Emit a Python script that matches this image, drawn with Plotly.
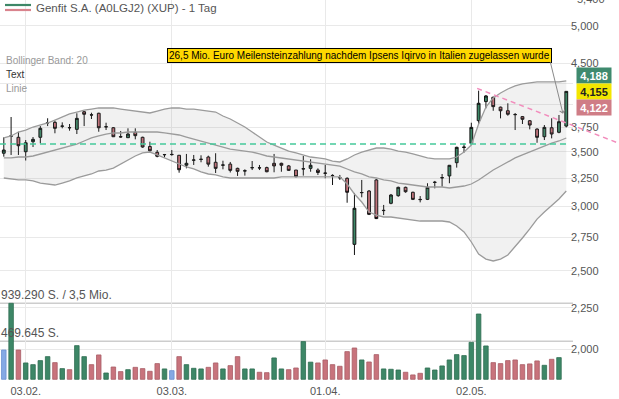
import math
import plotly.graph_objects as go

# ---------------- data ----------------
title_text = "Genfit S.A. (A0LGJ2) (XUP) - 1 Tag"
news_text = "26,5 Mio. Euro Meilensteinzahlung nachdem Ipsens Iqirvo in Italien zugelassen wurde"
side_labels = ["Bollinger Band: 20", "Text", "Linie"]

date_labels = ["03.02.", "03.03.", "01.04.", "02.05."]
date_label_idx = [3, 23, 44, 64]

opens = [3.487, 3.660, 3.648, 3.502, 3.603, 3.648, 3.800, 3.806, 3.764, 3.750,
         3.731, 3.922, 3.888, 3.905, 3.757, 3.748, 3.655, 3.644, 3.700, 3.648,
         3.554, 3.496, 3.472, 3.476, 3.467, 3.371, 3.419, 3.426, 3.450, 3.399,
         3.371, 3.381, 3.341, 3.316, 3.346, 3.347, 3.348, 3.389, 3.389, 3.364,
         3.325, 3.335, 3.341, 3.325, 3.297, 3.275, 3.255, 3.248, 2.694, 3.118,
         3.133, 3.233, 2.964, 3.026, 3.092, 3.166, 3.122, 3.060, 3.060, 3.210,
         3.252, 3.270, 3.395, 3.544, 3.586, 3.824, 4.036, 4.086, 3.973, 3.933,
         3.892, 3.868, 3.823, 3.734, 3.654, 3.748, 3.700, 3.766]
highs = [3.648, 3.864, 3.706, 3.620, 3.651, 3.766, 3.850, 3.823, 3.806, 3.788,
         3.905, 3.930, 3.911, 3.911, 3.802, 3.756, 3.714, 3.742, 3.742, 3.654,
         3.603, 3.519, 3.480, 3.519, 3.470, 3.480, 3.470, 3.467, 3.463, 3.487,
         3.414, 3.402, 3.347, 3.332, 3.411, 3.373, 3.357, 3.480, 3.395, 3.373,
         3.325, 3.460, 3.428, 3.341, 3.373, 3.285, 3.279, 3.257, 3.116, 3.233,
         3.142, 3.242, 3.012, 3.107, 3.172, 3.172, 3.127, 3.089, 3.203, 3.224,
         3.288, 3.373, 3.552, 3.586, 3.802, 4.163, 4.112, 4.093, 3.979, 4.017,
         3.908, 3.875, 3.831, 3.742, 3.777, 3.850, 3.886, 4.155]
lows = [3.453, 3.470, 3.470, 3.416, 3.549, 3.586, 3.766, 3.690, 3.742, 3.717,
        3.682, 3.766, 3.842, 3.706, 3.724, 3.651, 3.644, 3.644, 3.627, 3.542,
        3.502, 3.447, 3.447, 3.463, 3.300, 3.341, 3.373, 3.399, 3.357, 3.297,
        3.332, 3.302, 3.270, 3.273, 3.325, 3.325, 3.304, 3.304, 3.309, 3.316,
        3.257, 3.273, 3.309, 3.279, 3.248, 3.187, 3.233, 3.031, 2.614, 3.078,
        2.927, 2.894, 2.927, 3.018, 3.083, 3.118, 3.054, 3.034, 3.054, 3.157,
        3.172, 3.203, 3.348, 3.493, 3.579, 3.788, 3.960, 3.933, 3.849, 3.878,
        3.724, 3.788, 3.731, 3.592, 3.620, 3.637, 3.690, 3.752]
closes = [3.519, 3.662, 3.562, 3.592, 3.627, 3.742, 3.802, 3.742, 3.766, 3.748,
          3.849, 3.894, 3.886, 3.748, 3.759, 3.654, 3.652, 3.682, 3.665, 3.549,
          3.512, 3.457, 3.474, 3.474, 3.328, 3.389, 3.421, 3.428, 3.381, 3.341,
          3.373, 3.322, 3.313, 3.318, 3.348, 3.345, 3.309, 3.364, 3.370, 3.322,
          3.263, 3.337, 3.370, 3.302, 3.295, 3.273, 3.253, 3.122, 2.984, 3.120,
          2.933, 2.898, 2.966, 3.098, 3.166, 3.127, 3.060, 3.058, 3.166, 3.212,
          3.254, 3.370, 3.546, 3.548, 3.752, 4.017, 4.101, 3.979, 3.933, 3.894,
          3.890, 3.839, 3.777, 3.648, 3.752, 3.682, 3.813, 4.155]

volumes = [362000, 939290, 362000, 202000, 181000, 231000, 280000, 206000, 132000, 119000,
           416000, 280000, 181000, 301000, 78000, 152000, 95000, 119000, 148000, 132000,
           99000, 194000, 128000, 107000, 280000, 181000, 136000, 128000, 148000, 202000,
           128000, 169000, 280000, 128000, 128000, 87000, 82000, 264000, 128000, 119000,
           140000, 466000, 212000, 202000, 239000, 181000, 161000, 342000, 387000, 239000,
           214000, 305000, 128000, 124000, 115000, 87000, 54000, 74000, 140000, 115000,
           165000, 239000, 305000, 293000, 457000, 807000, 412000, 206000, 194000, 231000,
           239000, 181000, 190000, 227000, 173000, 247000, 268000, None]
# u = up day, d = down day, n = unchanged
vol_dir = ("nuduuuudud" "uudduddudd" "ddunduuudd" "udduudduud" "duuddddddu"
           "dduuuddduu" "uuuuuuuddd" "dddduduu")

bb_upper = [3.641, 3.662, 3.703, 3.724, 3.756, 3.777, 3.799, 3.831, 3.864, 3.897,
            3.919, 3.941, 3.952, 3.964, 3.964, 3.964, 3.952, 3.941, 3.930, 3.919,
            3.908, 3.930, 3.952, 3.964, 3.964, 3.952, 3.952, 3.941, 3.930, 3.919,
            3.875, 3.842, 3.799, 3.756, 3.703, 3.651, 3.600, 3.569, 3.539, 3.509,
            3.490, 3.470, 3.450, 3.441, 3.431, 3.411, 3.402, 3.431, 3.470, 3.499,
            3.519, 3.539, 3.539, 3.529, 3.509, 3.499, 3.480, 3.460, 3.441, 3.431,
            3.431, 3.431, 3.450, 3.499, 3.569, 3.788, 3.975, 4.078, 4.136, 4.183,
            4.219, 4.243, 4.255, 4.267, 4.267, 4.267, 4.267, 4.279]
bb_middle = [3.441, 3.441, 3.450, 3.450, 3.460, 3.480, 3.499, 3.519, 3.539, 3.559,
             3.579, 3.610, 3.641, 3.662, 3.682, 3.693, 3.693, 3.703, 3.703, 3.703,
             3.703, 3.703, 3.693, 3.682, 3.672, 3.651, 3.630, 3.610, 3.589, 3.569,
             3.549, 3.529, 3.519, 3.509, 3.499, 3.480, 3.460, 3.450, 3.441, 3.431,
             3.421, 3.411, 3.402, 3.392, 3.383, 3.373, 3.363, 3.335, 3.307, 3.288,
             3.261, 3.251, 3.233, 3.224, 3.205, 3.196, 3.187, 3.178, 3.169, 3.169,
             3.169, 3.160, 3.169, 3.178, 3.196, 3.233, 3.279, 3.325, 3.363, 3.402,
             3.441, 3.470, 3.499, 3.529, 3.559, 3.589, 3.610, 3.641]
bb_lower = [3.251, 3.242, 3.233, 3.233, 3.224, 3.205, 3.196, 3.187, 3.205, 3.224,
            3.251, 3.270, 3.288, 3.316, 3.325, 3.344, 3.383, 3.421, 3.460, 3.490,
            3.499, 3.470, 3.441, 3.411, 3.383, 3.354, 3.335, 3.307, 3.288, 3.279,
            3.261, 3.251, 3.251, 3.251, 3.251, 3.251, 3.251, 3.251, 3.261, 3.261,
            3.261, 3.261, 3.261, 3.261, 3.261, 3.261, 3.261, 3.196, 3.107, 3.037,
            2.952, 2.927, 2.911, 2.911, 2.903, 2.894, 2.886, 2.878, 2.878, 2.878,
            2.878, 2.870, 2.838, 2.790, 2.712, 2.621, 2.584, 2.570, 2.584, 2.614,
            2.674, 2.743, 2.814, 2.894, 2.952, 3.003, 3.063, 3.133]

price_ticks = [2.0, 2.25, 2.5, 2.75, 3.0, 3.25, 3.5, 3.75, 4.0, 4.25, 4.5, 5.0]
price_ticks_hidden = [4.0, 4.25]      # covered by the quote boxes
top_tick = 5.4                          # partly cut label at the top edge

quote_values = [4.188, 4.155, 4.122]    # ask, last, bid
support_level = 3.58
trend_x = [64.8, 77.0]
trend_y = [4.19, 3.80]
arrow_target = (76.55, 3.90)
vol_ref = 939290
vol_ref_text = "939.290 S. / 3,5 Mio."
vol_half_text = "469.645 S."

# ---------------- layout constants ----------------
W, H = 619, 399
ML, MR, MT, MB = 0, 46, 0, 19
PW, PH = W - ML - MR, H - MT - MB
X0, X1 = -0.52, 77.92
P_LO, P_HI = math.log10(1.8346), math.log10(5.382)
V_LO, V_HI = -8651, 4687800

GREEN = "#3d8767"
RED = "#c8737c"
BLUE = "#85a9e4"
FONT = "Arial, Liberation Sans, sans-serif"


def de(v, nd=3):
    s = f"{v:,.{nd}f}"
    return s.replace(",", "X").replace(".", ",").replace("X", ".")


def xp(px):
    return px / PW


def yp(py):
    return 1 - py / PH


def paper_x(idx):
    return (idx - X0) / (X1 - X0)


def paper_y(price):
    return (math.log10(price) - P_LO) / (P_HI - P_LO)


idx = list(range(len(closes)))

fig = go.Figure()

band_line = dict(color="#9b9b9b", width=1.3)
fig.add_trace(go.Scatter(x=idx, y=bb_upper, mode="lines", line=band_line,
                         hoverinfo="skip", showlegend=False))
fig.add_trace(go.Scatter(x=idx, y=bb_lower, mode="lines", line=band_line,
                         fill="tonexty", fillcolor="rgba(120,120,120,0.10)",
                         hoverinfo="skip", showlegend=False))
fig.add_trace(go.Scatter(x=idx, y=bb_middle, mode="lines", line=band_line,
                         hoverinfo="skip", showlegend=False))

fig.add_trace(go.Candlestick(
    x=idx, open=opens, high=highs, low=lows, close=closes,
    increasing=dict(line=dict(color="#111111", width=1), fillcolor=GREEN),
    decreasing=dict(line=dict(color="#111111", width=1), fillcolor=RED),
    whiskerwidth=0, showlegend=False, hoverinfo="skip"))

col_map = {"u": GREEN, "d": RED, "n": BLUE}
edge_map = {"u": "#2e6d51", "d": "#a85d66", "n": "#6b8fd0"}
fig.add_trace(go.Bar(
    x=idx, y=volumes, yaxis="y2", width=0.62,
    marker=dict(color=[col_map[c] for c in vol_dir],
                line=dict(color=[edge_map[c] for c in vol_dir], width=0.8)),
    hoverinfo="skip", showlegend=False))

shapes = []
# support line
shapes.append(dict(type="line", xref="x", yref="y", x0=X0, x1=idx[-1],
                   y0=support_level, y1=support_level,
                   line=dict(color="#45c99a", width=1.5, dash="6px,4px")))
# trend line, extended to the right edge of the picture
lx0, lx1 = trend_x
ly0, ly1 = math.log10(trend_y[0]), math.log10(trend_y[1])
x_edge = X0 + (W - ML) / PW * (X1 - X0)
ly_edge = ly0 + (ly1 - ly0) * (x_edge - lx0) / (lx1 - lx0)
shapes.append(dict(type="line", xref="paper", yref="paper",
                   x0=paper_x(lx0), y0=paper_y(trend_y[0]),
                   x1=paper_x(x_edge), y1=paper_y(10 ** ly_edge),
                   line=dict(color="#f28cbc", width=1.5, dash="5px,4px")))
# volume reference lines
for v in (vol_ref, vol_ref / 2):
    shapes.append(dict(type="line", xref="paper", yref="y2", x0=0, x1=1, y0=v, y1=v,
                       line=dict(color="#cdcdcd", width=1.6), layer="below"))
# legend icon
shapes.append(dict(type="line", xref="paper", yref="paper", x0=xp(5), x1=xp(31),
                   y0=yp(5), y1=yp(5), line=dict(color=GREEN, width=2.2)))
shapes.append(dict(type="line", xref="paper", yref="paper", x0=xp(5), x1=xp(31),
                   y0=yp(10), y1=yp(10), line=dict(color="#d9838d", width=2.2)))

ann = []
ann.append(dict(text=title_text, xref="paper", yref="paper", x=xp(34), y=yp(8),
                xanchor="left", yanchor="middle", showarrow=False,
                font=dict(family=FONT, size=11.5, color="#555555")))
for txt, ypos, col in zip(side_labels, [60.5, 74.5, 89], ["#999999", "#333333", "#999999"]):
    ann.append(dict(text=txt, xref="paper", yref="paper", x=xp(4), y=yp(ypos),
                    xanchor="left", yanchor="middle", showarrow=False,
                    font=dict(family=FONT, size=10, color=col)))
# news box
ann.append(dict(text=news_text, xref="paper", yref="paper", x=xp(167), y=yp(55),
                xanchor="left", yanchor="middle", showarrow=False,
                bgcolor="#ffd800", bordercolor="#000000", borderwidth=1, borderpad=1,
                font=dict(family=FONT, size=10, color="#000000")))
# arrow
ann.append(dict(text="", xref="paper", yref="paper",
                x=paper_x(arrow_target[0]), y=paper_y(arrow_target[1]),
                ax=-13, ay=-53, showarrow=True, arrowhead=4, arrowsize=1,
                arrowwidth=1, arrowcolor="#8a8a8a", standoff=0))
# volume labels
ann.append(dict(text=vol_ref_text, xref="paper", yref="y2", x=0, y=vol_ref,
                xanchor="left", yanchor="bottom", xshift=-1, yshift=-1, showarrow=False,
                font=dict(family=FONT, size=12, color="#555555")))
ann.append(dict(text=vol_half_text, xref="paper", yref="y2", x=0, y=vol_ref / 2,
                xanchor="left", yanchor="bottom", xshift=-1, yshift=-1, showarrow=False,
                font=dict(family=FONT, size=12, color="#555555")))
# quote boxes
box_cols = ["#3f8a6e", "#f3e600", "#cf7d86"]
txt_cols = ["#ffffff", "#222222", "#ffffff"]
shifts = [15.5, 0, -16]
for v, bc, tc, sh in zip(quote_values, box_cols, txt_cols, shifts):
    ann.append(dict(text="<b>" + de(v) + "</b>", xref="paper", yref="paper",
                    x=1, y=paper_y(quote_values[1]), xanchor="left", yanchor="middle",
                    xshift=3, yshift=sh, width=34, height=15, borderpad=0,
                    bgcolor=bc, showarrow=False,
                    font=dict(family=FONT, size=11, color=tc)))
# top partially visible tick label
ann.append(dict(text=de(top_tick), xref="paper", yref="paper", x=1, y=paper_y(top_tick),
                xanchor="left", yanchor="middle", xshift=2, showarrow=False,
                font=dict(family=FONT, size=11, color="#555555")))

tick_text = ["" if t in price_ticks_hidden else de(t) for t in price_ticks]

fig.update_layout(
    width=W, height=H,
    margin=dict(l=ML, r=MR, t=MT, b=MB, pad=0),
    paper_bgcolor="white", plot_bgcolor="white",
    separators=",.",
    showlegend=False,
    boxgap=0.45,
    font=dict(family=FONT, size=11, color="#555555"),
    xaxis=dict(range=[X0, X1], tickmode="array", tickvals=date_label_idx,
               ticktext=date_labels, showgrid=True, gridcolor="#e9e9e9", gridwidth=1,
               zeroline=False, showline=False, ticks="", rangeslider=dict(visible=False),
               ticklabelstandoff=3,
               tickfont=dict(family=FONT, size=11, color="#555555")),
    yaxis=dict(type="log", range=[P_LO, P_HI], side="right", tickmode="array",
               tickvals=price_ticks, ticktext=tick_text, showgrid=True,
               gridcolor="#e9e9e9", gridwidth=1, zeroline=False, showline=False,
               ticks="", ticklabelstandoff=-3,
               tickfont=dict(family=FONT, size=11, color="#555555")),
    yaxis2=dict(overlaying="y", range=[V_LO, V_HI], visible=False, showgrid=False,
                zeroline=False),
    shapes=shapes,
    annotations=ann,
)

fig.write_html("out.html", config={"displayModeBar": False},
               post_script="document.body.style.margin='0px';")
